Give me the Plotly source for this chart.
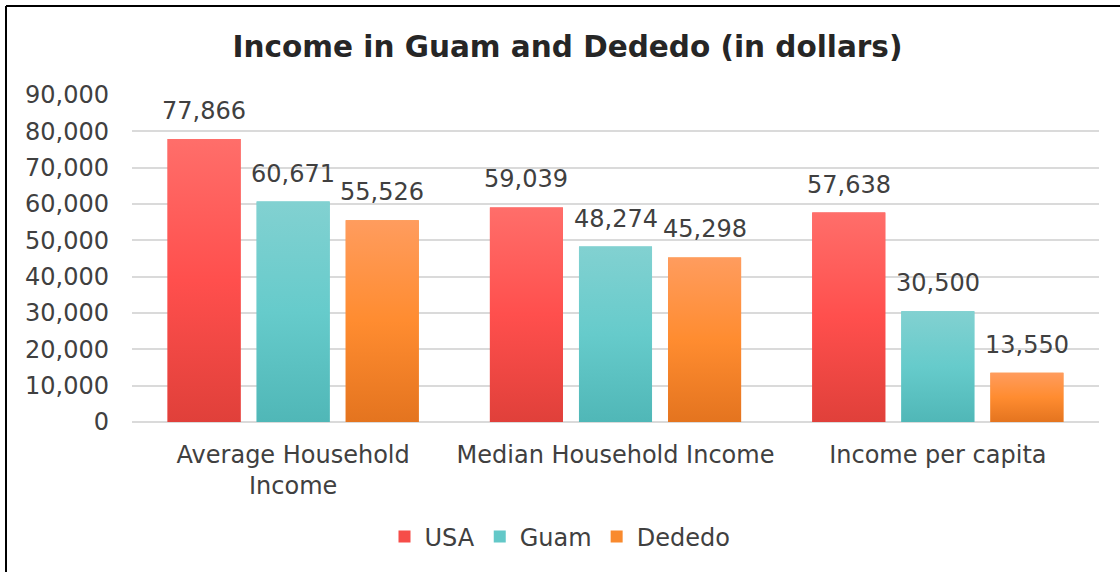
import plotly.graph_objects as go

# Data
categories = ["Average Household<br>Income", "Median Household Income", "Income per capita"]
series_labels = ["USA", "Guam", "Dededo"]
usa = [77866, 59039, 57638]
guam = [60671, 48274, 30500]
dededo = [55526, 45298, 13550]
y_ticks = [0, 10000, 20000, 30000, 40000, 50000, 60000, 70000, 80000, 90000]

series_values = [usa, guam, dededo]
# solid colour (legend) and vertical gradient (bottom, middle, top) per series
colors = ["#F64D49", "#63C8C8", "#F98A2E"]
gradients = [
    ["#E0403A", "#FF4F4D", "#FF6E6A"],
    ["#50B7B7", "#66CBCB", "#82D1D1"],
    ["#E4741F", "#FF8C30", "#FF9C5E"],
]

# Layout geometry (pixels)
W, H = 1120, 572
ML, MR, MT, MB = 132, 21, 95, 150
BARGAP = 0.171
BARGROUPGAP = 0.18
FONT = "DejaVu Sans"
TXT = "#404040"
FS = 24

n_cat = len(categories)
n_ser = len(series_values)

fig = go.Figure()
for name, vals, col in zip(series_labels, series_values, colors):
    fig.add_trace(go.Bar(
        name=name, x=categories, y=vals,
        marker=dict(color=col, line=dict(width=0)),
        hoverinfo="y+name",
    ))

# Gradient fill drawn over each bar on a hidden numeric axis that shares the
# category axis range; bar geometry follows plotly's grouped-bar layout.
slot = (1 - BARGAP) / n_ser
bar_w = slot * (1 - BARGROUPGAP)
for si, (vals, grad) in enumerate(zip(series_values, gradients)):
    for ci, v in enumerate(vals):
        cx = ci - (1 - BARGAP) / 2 + slot * (si + 0.5)
        x0, x1 = cx - bar_w / 2, cx + bar_w / 2
        fig.add_trace(go.Scatter(
            x=[x0, x1, x1, x0, x0], y=[0, 0, v, v, 0],
            xaxis="x2", yaxis="y",
            mode="lines", line=dict(width=0), fill="toself",
            fillgradient=dict(type="vertical",
                              colorscale=[[0, grad[0]], [0.5, grad[1]], [1, grad[2]]]),
            showlegend=False, hoverinfo="skip",
        ))

# Value labels above each bar, shifted horizontally to the bar's slot
plot_w = W - ML - MR
slot_px = plot_w / n_cat * slot
annotations = []
for si, vals in enumerate(series_values):
    dx = (si - (n_ser - 1) / 2) * slot_px
    for cat, v in zip(categories, vals):
        annotations.append(dict(
            x=cat, y=v, xref="x", yref="y", text=f"{v:,}",
            showarrow=False, xshift=dx, yshift=12, yanchor="bottom",
            font=dict(family=FONT, size=FS, color=TXT),
        ))

# Outer frame (top and left edges)
plot_h = H - MT - MB
def px_x(px):
    return (px - ML) / plot_w
def px_y(py):
    return (H - MB - py) / plot_h

shapes = [
    dict(type="line", xref="paper", yref="paper",
         x0=px_x(6), x1=px_x(W + 5), y0=px_y(6), y1=px_y(6),
         line=dict(color="#000000", width=2)),
    dict(type="line", xref="paper", yref="paper",
         x0=px_x(6), x1=px_x(6), y0=px_y(6), y1=px_y(H + 5),
         line=dict(color="#000000", width=2)),
]

fig.update_layout(
    width=W, height=H,
    margin=dict(l=ML, r=MR, t=MT, b=MB),
    paper_bgcolor="white", plot_bgcolor="white",
    barmode="group", bargap=BARGAP, bargroupgap=BARGROUPGAP,
    font=dict(family=FONT, size=FS, color=TXT),
    title=dict(
        text="<b>Income in Guam and Dededo (in dollars)</b>",
        x=567.5 / W, xref="container", xanchor="center",
        y=1 - 47 / H, yref="container", yanchor="middle",
        font=dict(family=FONT, size=29.5, color="#262626"),
    ),
    xaxis=dict(
        range=[-0.5, n_cat - 0.5],
        showgrid=False, showline=False, ticks="",
        tickfont=dict(family=FONT, size=FS, color=TXT),
        ticklabelstandoff=16,
    ),
    xaxis2=dict(
        overlaying="x", range=[-0.5, n_cat - 0.5], visible=False,
    ),
    yaxis=dict(
        range=[0, 90000], tickvals=y_ticks, tickformat=",d",
        showgrid=True, gridcolor="#DADADA", gridwidth=2,
        zeroline=True, zerolinecolor="#DADADA", zerolinewidth=2,
        showline=False, ticks="",
        tickfont=dict(family=FONT, size=FS, color=TXT),
        ticklabelstandoff=22,
    ),
    legend=dict(
        orientation="h", x=0.5, xanchor="center", xref="container",
        y=1 - 537 / H, yref="container", yanchor="middle",
        font=dict(family=FONT, size=FS, color=TXT),
        itemwidth=30, traceorder="normal",
    ),
    annotations=annotations,
    shapes=shapes,
    showlegend=True,
)

fig.write_html("out.html")
